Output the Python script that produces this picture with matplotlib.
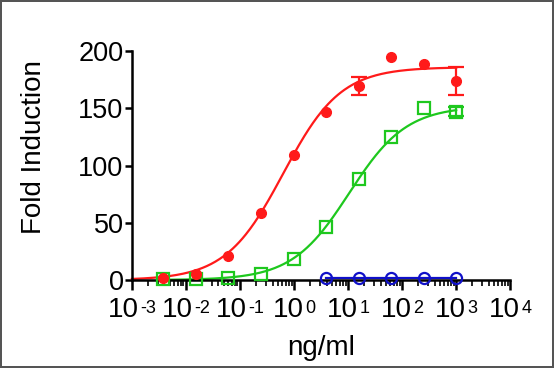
import numpy as np
import matplotlib
matplotlib.use("Agg")
import matplotlib.pyplot as plt
from matplotlib.ticker import LogLocator, NullFormatter

plt.rcParams['font.family'] = ['Liberation Sans', 'DejaVu Sans']

# concentrations (ng/ml), 4-fold dilutions
conc = [0.0038, 0.0153, 0.061, 0.244, 0.98, 3.9, 15.6, 62.5, 250, 1000]

# red series (filled circles)
red_y = [1.5, 5, 21, 58.8, 109.5, 146.4, 169.4, 194.5, 189, 174]
red_err = [0, 0, 0, 0, 0, 0, 8, 0, 0, 12]
# 4PL fit: bottom, top, ec50, hill
red_fit = [0, 186, 0.63, 0.816]

# green series (open squares)
green_y = [1, 1, 2, 5, 18.5, 46.6, 88, 125, 150, 147]
green_err = [0, 0, 0, 0, 0, 0, 0, 0, 0, 4]
green_fit = [0, 152, 10.5, 0.82]

# blue series (open circles), only top concentrations
blue_conc = [3.9, 15.6, 62.5, 250, 1000]
blue_y = [1.5, 1.5, 1.5, 1.5, 1.5]

# x tick decades
decades = [-3, -2, -1, 0, 1, 2, 3, 4]

red = '#ff1a1a'
green = '#1ec81e'
blue = '#1010c8'


def four_pl(x, p):
    bottom, top, ec50, hill = p
    return bottom + (top - bottom) / (1 + (ec50 / x) ** hill)


def err_bars(ax, x, y, e, col):
    xs = [a for a, b in zip(x, e) if b > 0]
    ys = [a for a, b in zip(y, e) if b > 0]
    es = [b for b in e if b > 0]
    ax.errorbar(xs, ys, yerr=es, fmt='none', ecolor=col, capsize=6,
                elinewidth=1.6, capthick=1.6, zorder=3)


fig = plt.figure(figsize=(5.54, 3.68), dpi=100)
fig.patch.set_edgecolor('#555555')
fig.patch.set_linewidth(1.5)
ax = fig.add_axes([0.238, 0.239, 0.683, 0.622])

xr = np.logspace(-3, 3, 300)
ax.plot(xr, four_pl(xr, red_fit), color=red, lw=1.6, zorder=2)
xg = np.logspace(np.log10(conc[0]), 3, 300)
ax.plot(xg, four_pl(xg, green_fit), color=green, lw=1.6, zorder=2)
ax.plot(blue_conc, blue_y, color=blue, lw=1.6, zorder=2)

err_bars(ax, conc, red_y, red_err, red)
err_bars(ax, conc, green_y, green_err, green)
ax.plot(conc, green_y, 's', color=green, ms=8, mfc='none', mew=1.6, zorder=3)
ax.plot(conc, red_y, 'o', color=red, ms=7, zorder=4)
ax.plot(blue_conc, blue_y, 'o', color=blue, ms=8, mfc='none', mew=1.6, zorder=3)

ax.set_xscale('log')
ax.set_xlim(1e-3, 1e4)
ax.set_ylim(0, 200)
ax.set_yticks([0, 50, 100, 150, 200])
ax.xaxis.set_minor_locator(LogLocator(base=10, subs=np.arange(2, 10), numticks=20))
ax.xaxis.set_minor_formatter(NullFormatter())
ax.set_xticks([10.0 ** k for k in decades])
ax.set_xticklabels([])

# "10" plus a raised exponent, centred under each decade tick
fs_base, fs_sup, gap = 20, 13, 1.0
trans = ax.get_xaxis_transform()
for k in decades:
    sup = str(k)
    w10 = 2 * 0.556 * fs_base
    wsup = sum(0.333 if c == '-' else 0.556 for c in sup) * fs_sup
    a = (w10 - gap - wsup) / 2
    ax.annotate('10', (10.0 ** k, 0), xycoords=trans, xytext=(a, -26.6),
                textcoords='offset points', ha='right', va='baseline',
                fontsize=fs_base, annotation_clip=False)
    ax.annotate(sup, (10.0 ** k, 0), xycoords=trans, xytext=(a + gap, -23.5),
                textcoords='offset points', ha='left', va='baseline',
                fontsize=fs_sup, annotation_clip=False)

for s in ['top', 'right']:
    ax.spines[s].set_visible(False)
for s in ['left', 'bottom']:
    ax.spines[s].set_linewidth(1.8)

ax.tick_params(axis='y', which='major', length=5, width=1.8, labelsize=19.5, pad=1)
ax.tick_params(axis='x', which='major', length=7, width=1.8)
ax.tick_params(axis='x', which='minor', length=4, width=1.2)

ax.set_ylabel('Fold Induction', fontsize=20)
ax.yaxis.set_label_coords(-0.223, 0.583)
ax.set_xlabel('ng/ml', fontsize=20)
ax.xaxis.set_label_coords(0.5, -0.24)
for a in ax.get_children():
    try:
        a.set_clip_on(False)
    except Exception:
        pass

fig.savefig('out.png', dpi=100)
